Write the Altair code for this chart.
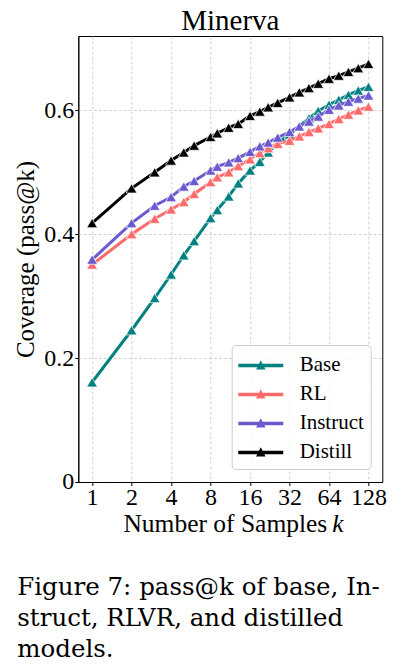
import altair as alt
import pandas as pd

# sample counts (log-spaced)
k_values = [1, 2, 3, 4, 5, 6, 8, 9, 11, 13, 16, 19, 22, 26, 32, 38, 45, 53, 64, 76, 90, 107, 128]

base_cov = [0.161, 0.245, 0.297, 0.335, 0.366, 0.389, 0.426, 0.439, 0.461, 0.482, 0.503, 0.517,
            0.532, 0.547, 0.561, 0.574, 0.587, 0.599, 0.609, 0.617, 0.625, 0.632, 0.638]
rl_cov = [0.351, 0.400, 0.425, 0.440, 0.452, 0.465, 0.484, 0.492, 0.500, 0.510, 0.521, 0.531,
          0.539, 0.546, 0.551, 0.558, 0.565, 0.571, 0.578, 0.586, 0.593, 0.600, 0.606]
instruct_cov = [0.359, 0.418, 0.446, 0.460, 0.477, 0.486, 0.503, 0.509, 0.516, 0.523, 0.533, 0.542,
                0.548, 0.556, 0.565, 0.574, 0.582, 0.590, 0.601, 0.608, 0.614, 0.619, 0.624]
distill_cov = [0.418, 0.474, 0.500, 0.519, 0.532, 0.543, 0.557, 0.563, 0.572, 0.578, 0.591, 0.598,
               0.605, 0.612, 0.621, 0.629, 0.636, 0.643, 0.651, 0.656, 0.662, 0.668, 0.675]

models = ["Base", "RL", "Instruct", "Distill"]
colors = ["#008080", "#ff6b6b", "#6a5acd", "#000000"]
x_ticks = [1, 2, 4, 8, 16, 32, 64, 128]
y_ticks = [0, 0.2, 0.4, 0.6]

x_title = "Number of Samples"
x_title_var = "k"
caption_lines = ["Figure 7: pass@k of base, In-", "struct, RLVR, and distilled", "models."]

series = [base_cov, rl_cov, instruct_cov, distill_cov]
rows = []
for name, vals in zip(models, series):
    for k, v in zip(k_values, vals):
        rows.append({"model": name, "k": k, "coverage": v})
df = pd.DataFrame(rows)

SERIF = "Liberation Serif"
color_scale = alt.Scale(domain=models, range=colors)

# legend symbol: thick line with a triangle in the middle
legend_path = (
    "M-0.96,-0.114 L2.143,-0.114 L2.143,0.114 L-0.96,0.114 Z "
    "M0.593,-0.37 L0.917,0.276 L0.269,0.276 Z"
)

axis_text = dict(
    labelFont=SERIF, labelFontSize=24, labelColor="black",
    titleFont=SERIF, titleFontSize=25, titleFontWeight="normal", titleColor="black",
)

x_enc = alt.X(
    "k:Q",
    scale=alt.Scale(type="log", base=2, domain=[0.785, 163.1], nice=False),
    axis=alt.Axis(values=x_ticks, format="d", title=None,
                  labelFlush=False, labelOverlap=False, labelPadding=0, **axis_text),
)
y_enc = alt.Y(
    "coverage:Q",
    scale=alt.Scale(domain=[0, 0.72], nice=False),
    axis=alt.Axis(values=y_ticks, title="Coverage (pass@k)",
                  labelExpr="datum.value == 0 ? '0' : format(datum.value, '.1f')",
                  labelPadding=1, titlePadding=5, **axis_text),
)

legend = alt.Legend(
    title=None, orient="none", legendX=153.4, legendY=309,
    symbolType=legend_path, symbolSize=841, symbolStrokeWidth=0, symbolOpacity=1,
    labelFont=SERIF, labelFontSize=21, labelColor="black",
    labelOffset=33, padding=6, rowPadding=4, fillColor="rgba(255,255,255,0.8)",
    strokeColor="#cccccc", cornerRadius=4,
)

base = alt.Chart(df)
layers = []
for name, col in zip(models, colors):
    sub = base.transform_filter(alt.datum.model == name)
    line = sub.mark_line(strokeWidth=3, color=col).encode(x=x_enc, y=y_enc)
    pts = sub.mark_point(shape="triangle-up", filled=True, size=115, opacity=1,
                         stroke="white", strokeWidth=0.7).encode(
        x=x_enc, y=y_enc,
        fill=alt.Fill("model:N", scale=color_scale, legend=legend),
    )
    layers += [line, pts]

# x-axis title with an italic k, as in the paper figure
one_row = pd.DataFrame({"a": [x_title], "b": [x_title_var]})
title_main = alt.Chart(one_row).mark_text(
    align="right", baseline="alphabetic", font=SERIF, fontSize=25.5, color="black",
).encode(x=alt.value(249), y=alt.value(496), text="a:N")
title_k = alt.Chart(one_row).mark_text(
    align="left", baseline="alphabetic", font=SERIF, fontSize=25.5, fontStyle="italic",
    color="black",
).encode(x=alt.value(254), y=alt.value(496), text="b:N")
layers += [title_main, title_k]

caption = alt.Chart(pd.DataFrame({"text": ["\n".join(caption_lines)]})).mark_text(
    align="left", baseline="alphabetic", font="DejaVu Serif", fontSize=24.5,
    lineBreak="\n", lineHeight=31, color="black",
).encode(x=alt.value(-61), y=alt.value(559), text="text:N")
layers.append(caption)

chart = (
    alt.layer(*layers)
    .properties(
        width=304, height=446,
        title=alt.Title("Minerva", font=SERIF, fontSize=29, fontWeight="normal",
                        color="black", offset=0),
        autosize=alt.AutoSizeParams(type="none"),
        padding={"left": 70.3, "top": 28, "right": 23, "bottom": 180},
    )
    .configure(font=SERIF)
    .configure_axis(
        domainColor="black", tickColor="black", tickSize=3.5,
        gridColor="#c8c8c8", gridDash=[3, 2], gridWidth=0.8,
    )
    .configure_view(stroke="black", strokeWidth=1)
)

chart.save("out.html", embed_options={"renderer": "svg", "actions": False})
